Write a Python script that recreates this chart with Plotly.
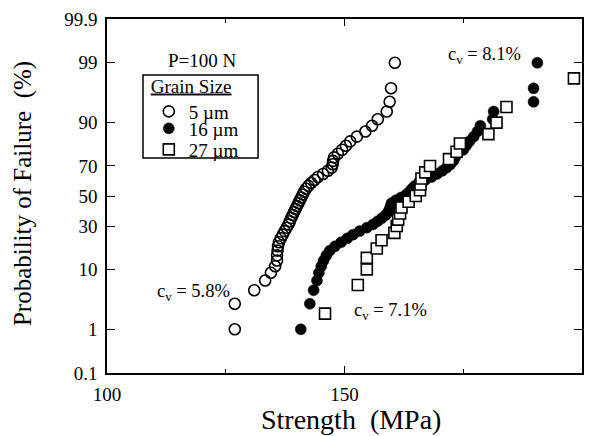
import plotly.graph_objects as go
from statistics import NormalDist

# ---------------- data ----------------
prob_5um = [1, 3, 5, 7, 9, 11, 13, 15, 17, 19, 21, 23, 25, 27, 29, 31, 33, 35, 37, 39,
            41, 43, 45, 47, 49, 51, 53, 55, 57, 59, 61, 63, 65, 67, 69, 71, 73, 75, 77, 79,
            81, 83, 85, 87, 89, 91, 93, 95, 97, 99]
strength_5um = [126.9, 126.9, 131.0, 133.3, 134.5, 135.4, 135.8, 135.8, 135.9, 136.0,
                136.2, 136.6, 137.0, 137.4, 137.8, 138.2, 138.5, 138.8, 139.1, 139.4,
                139.7, 140.0, 140.3, 140.6, 140.9, 141.2, 141.5, 141.9, 142.4, 143.0,
                143.7, 144.4, 145.5, 146.5, 147.3, 147.5, 147.6, 147.8, 148.6, 149.5,
                150.3, 151.2, 152.6, 154.4, 155.8, 157.0, 158.9, 159.5, 159.8, 160.6]

prob_16um = [1, 3, 5, 7, 9, 11, 13, 15, 17, 19, 21, 23, 25, 27, 29, 31, 33, 35, 37, 39,
             41, 43, 45, 47, 49, 51, 53, 55, 57, 59, 61, 63, 65, 67, 69, 71, 73, 75, 77, 79,
             81, 83, 85, 87, 89, 91, 93, 95, 97, 99]
strength_16um = [140.8, 142.7, 143.5, 144.2, 144.6, 145.1, 145.6, 146.2, 146.9, 148.0,
                 149.3, 150.6, 151.8, 153.2, 154.7, 156.0, 157.0, 157.9, 158.7, 159.2,
                 159.5, 159.7, 159.9, 160.8, 161.9, 163.0, 163.7, 164.2, 164.8, 165.9,
                 167.0, 168.3, 169.5, 170.6, 171.5, 172.3, 172.9, 173.3, 173.8, 175.0,
                 175.6, 176.3, 177.2, 178.0, 178.6, 181.2, 181.4, 189.8, 189.8, 190.6]

prob_27um = [2, 6, 10, 14, 18, 22, 26, 30, 34, 38, 42, 46, 50, 54, 58, 62, 66, 70, 74, 78,
             82, 86, 90, 94, 98]
strength_27um = [145.9, 152.8, 154.7, 154.7, 156.8, 157.8, 160.5, 161.0, 161.3, 161.7,
                 162.0, 163.5, 165.0, 165.9, 166.0, 166.2, 167.0, 168.0, 172.0, 173.6,
                 174.3, 180.3, 182.0, 184.1, 198.3]

prob_ticks = [0.1, 1, 10, 30, 50, 70, 90, 99, 99.9]
prob_tick_labels = ["0.1", "1", "10", "30", "50", "70", "90", "99", "99.9"]
strength_ticks = [100, 150, 200]
strength_minor_ticks = [125, 175]

# ---------------- normal probability scale ----------------
nd = NormalDist()
def zscore(p_list):
    return [nd.inv_cdf(p / 100.0) for p in p_list]

FONT = "Liberation Serif"

fig = go.Figure()
fig.add_trace(go.Scatter(
    x=strength_5um, y=zscore(prob_5um), mode="markers", name="5 µm", legend="legend",
    marker=dict(symbol="circle-open", size=11, color="black", line=dict(width=1.6, color="black"))))
fig.add_trace(go.Scatter(
    x=strength_16um, y=zscore(prob_16um), mode="markers", name="16 µm", legend="legend2",
    marker=dict(symbol="circle", size=11, color="black", line=dict(width=0.5, color="black"))))
fig.add_trace(go.Scatter(
    x=strength_27um, y=zscore(prob_27um), mode="markers", name="27 µm", legend="legend3",
    marker=dict(symbol="square", size=11, color="white", line=dict(width=1.6, color="black"))))

ymin = nd.inv_cdf(0.001)
ymax = nd.inv_cdf(0.999)

leg_common = dict(x=0.088, xanchor="left", bgcolor="rgba(0,0,0,0)", borderwidth=0,
                  font=dict(family=FONT, size=19), tracegroupgap=0)

fig.update_layout(
    width=596, height=436,
    margin=dict(l=107, r=14, t=19, b=63),
    paper_bgcolor="white", plot_bgcolor="white",
    font=dict(family=FONT, size=18, color="black"),
    showlegend=True,
    legend=dict(y=0.862, yanchor="top",
                title=dict(text="<u>Grain Size</u>", font=dict(family=FONT, size=19), side="top"),
                **leg_common),
    legend2=dict(y=0.6907, yanchor="middle", **leg_common),
    legend3=dict(y=0.6314, yanchor="middle", **leg_common),
    shapes=[
        dict(type="rect", xref="paper", yref="paper",
             x0=0.0758, x1=0.318, y0=0.607, y1=0.842,
             line=dict(color="black", width=1.5), fillcolor="rgba(0,0,0,0)", layer="above"),
    ],
    xaxis=dict(
        range=[100, 200], tickvals=strength_ticks, ticktext=[str(v) for v in strength_ticks],
        ticks="inside", ticklen=7, tickwidth=1.3, tickcolor="black",
        showline=True, linecolor="black", linewidth=1.5, mirror="ticks",
        showgrid=False, zeroline=False, ticklabelstandoff=3, automargin=False,
        tickfont=dict(family=FONT, size=19),
        minor=dict(tickvals=strength_minor_ticks, ticks="inside", ticklen=4, tickcolor="black", showgrid=False),
    ),
    yaxis=dict(
        range=[ymin, ymax], tickvals=zscore(prob_ticks), ticktext=prob_tick_labels,
        ticks="inside", ticklen=8, tickwidth=1.3, tickcolor="black",
        showline=True, linecolor="black", linewidth=1.5, mirror="ticks",
        showgrid=False, zeroline=False, ticklabelstandoff=4, automargin=False,
        tickfont=dict(family=FONT, size=19),
    ),
    annotations=[
        dict(text="Strength  (MPa)", xref="paper", yref="paper", x=0.513, y=-0.13,
             xanchor="center", yanchor="middle", showarrow=False, font=dict(family=FONT, size=28)),
        dict(text="Probability of Failure  (%)", xref="paper", yref="paper", x=-0.177, y=0.508,
             xanchor="center", yanchor="middle", textangle=-90, showarrow=False,
             font=dict(family=FONT, size=25)),
        dict(text="P=100 N", xref="x", yref="paper", x=120, y=0.884,
             xanchor="center", yanchor="middle", showarrow=False, font=dict(family=FONT, size=19)),
        dict(text="c<sub>v</sub> = 5.8%", xref="x", yref="paper", x=110.0, y=0.226,
             xanchor="left", yanchor="middle", showarrow=False, font=dict(family=FONT, size=18.5)),
        dict(text="c<sub>v</sub> = 7.1%", xref="x", yref="paper", x=151.6, y=0.173,
             xanchor="left", yanchor="middle", showarrow=False, font=dict(family=FONT, size=18.5)),
        dict(text="c<sub>v</sub> = 8.1%", xref="x", yref="paper", x=171.3, y=0.898,
             xanchor="left", yanchor="middle", showarrow=False, font=dict(family=FONT, size=18.5)),
    ],
)

fig.write_html("out.html")
